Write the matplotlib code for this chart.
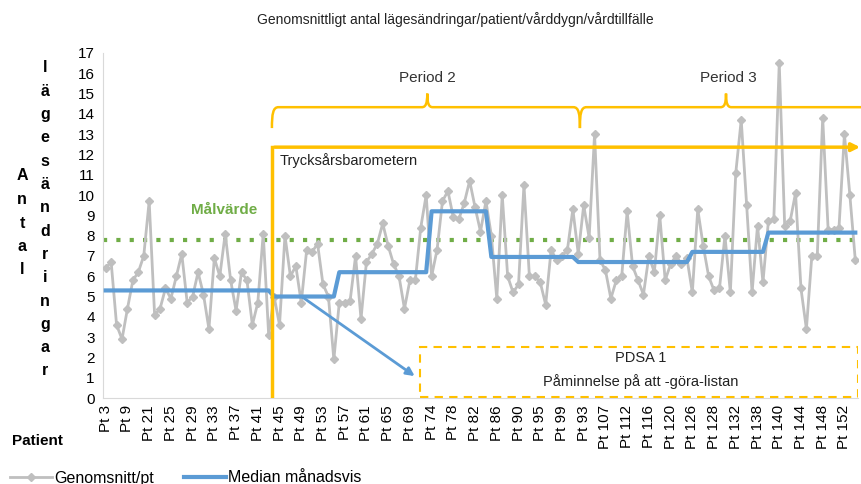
import matplotlib
matplotlib.use("Agg")
import matplotlib.pyplot as plt
from matplotlib.path import Path
from matplotlib.patches import PathPatch, Rectangle

plt.rcParams['font.family'] = ['Liberation Sans', 'DejaVu Sans']

# patient mean values
genomsnitt = [
    6.4, 6.7, 3.6, 2.9, 4.4, 5.8, 6.2, 7.0, 9.7, 4.1,
    4.4, 5.4, 4.9, 6.0, 7.1, 4.7, 5.0, 6.2, 5.1, 3.4,
    6.9, 6.0, 8.1, 5.8, 4.3, 6.2, 5.8, 3.6, 4.7, 8.1,
    3.1, 5.0, 3.6, 8.0, 6.0, 6.5, 4.7, 7.3, 7.2, 7.6,
    5.6, 5.0, 1.9, 4.7, 4.7, 4.8, 7.0, 3.9, 6.7, 7.1,
    7.6, 8.6, 7.5, 6.6, 6.0, 4.4, 5.8, 5.8, 8.4, 10.0,
    6.0, 7.3, 9.7, 10.2, 8.9, 8.8, 9.6, 10.7, 9.4, 8.2,
    9.7, 8.0, 4.9, 10.0, 6.0, 5.2, 5.6, 10.5, 6.0, 6.0,
    5.7, 4.6, 7.3, 6.8, 7.0, 7.3, 9.3, 7.1, 9.5, 7.9,
    13.0, 6.8, 6.3, 4.9, 5.8, 6.0, 9.2, 6.5, 5.8, 5.1,
    7.0, 6.2, 9.0, 5.8, 6.6, 7.0, 6.6, 6.9, 5.2, 9.3,
    7.5, 6.0, 5.3, 5.4, 8.0, 5.2, 11.1, 13.7, 9.5, 5.2,
    8.5, 5.7, 8.7, 8.8, 16.5, 8.5, 8.7, 10.1, 5.4, 3.4,
    7.0, 7.0, 13.8, 8.3, 8.3, 8.4, 13.0, 10.0, 6.8,
]

# monthly median: (level, number of patients)
median_levels = [5.3, 5.0, 6.2, 9.2, 6.95, 6.7, 7.2, 8.15]
median_counts = [31, 12, 17, 11, 16, 21, 14, 17]

tick_labels = ['Pt 3', 'Pt 9', 'Pt 21', 'Pt 25', 'Pt 29', 'Pt 33', 'Pt 37', 'Pt 41',
               'Pt 45', 'Pt 49', 'Pt 53', 'Pt 57', 'Pt 61', 'Pt 65', 'Pt 69', 'Pt 74',
               'Pt 78', 'Pt 82', 'Pt 86', 'Pt 90', 'Pt 95', 'Pt 99', 'Pt 93', 'Pt 107',
               'Pt 112', 'Pt 116', 'Pt 120', 'Pt 126', 'Pt 128', 'Pt 132', 'Pt 138',
               'Pt 140', 'Pt 144', 'Pt 148', 'Pt 152']

malvarde = 7.8

n = len(genomsnitt)
x = list(range(n))
median = []
for lvl, cnt in zip(median_levels, median_counts):
    median += [lvl] * cnt

GRAY = '#BFBFBF'
BLUE = '#5B9BD5'
GREEN = '#70AD47'
GOLD = '#FFC000'

fig = plt.figure(figsize=(8.62, 4.84), dpi=100)
ax = fig.add_axes([103 / 862, 86 / 484, 755 / 862, 345 / 484])

ax.plot(x, genomsnitt, color=GRAY, lw=2, marker='D', ms=4, label='Genomsnitt/pt', zorder=3)
ax.plot(x, median, color=BLUE, lw=3, label='Median månadsvis', zorder=4)
ax.axhline(malvarde, color=GREEN, lw=3, ls=(0, (1, 2.2)), zorder=2)

ax.set_xlim(-0.5, n - 0.5)
ax.set_ylim(0, 17)
ax.set_yticks(range(0, 18))
ax.tick_params(axis='y', length=0, labelsize=11, pad=6)
ax.set_xticks(range(0, n, 4))
ax.set_xticklabels(tick_labels, rotation=90, fontsize=11)
ax.tick_params(axis='x', length=0, pad=5)
for s in ['top', 'right']:
    ax.spines[s].set_visible(False)
for s in ['left', 'bottom']:
    ax.spines[s].set_color('#D9D9D9')

# intervention marker
xi = 30.6
ax.plot([xi, xi], [0, 12.36], color=GOLD, lw=2.5, zorder=5)
ax.annotate('', xy=(139.4, 12.36), xytext=(xi, 12.36),
            arrowprops=dict(arrowstyle='-|>', color=GOLD, lw=2.5, mutation_scale=12),
            annotation_clip=False, zorder=5)
ax.text(xi + 1.5, 11.7, 'Trycksårsbarometern', fontsize=10.5, color='#222222',
        va='center', ha='left')

# period braces
def brace(x0, xc, x1, right_open=False):
    yb, yl, yt = 13.3, 14.33, 15.0
    verts = [(x0, yb), (x0, 14.0), (x0 + 0.2, yl), (x0 + 1.2, yl),
             (xc - 1.0, yl),
             (xc - 0.3, yl), (xc, 14.5), (xc, yt),
             (xc, 14.5), (xc + 0.3, yl), (xc + 1.0, yl)]
    codes = [Path.MOVETO, Path.CURVE4, Path.CURVE4, Path.CURVE4,
             Path.LINETO,
             Path.CURVE4, Path.CURVE4, Path.CURVE4,
             Path.CURVE4, Path.CURVE4, Path.CURVE4]
    if right_open:
        verts += [(x1, yl)]
        codes += [Path.LINETO]
    else:
        verts += [(x1 - 1.2, yl), (x1 - 0.2, yl), (x1, 14.0), (x1, yb)]
        codes += [Path.LINETO, Path.CURVE4, Path.CURVE4, Path.CURVE4]
    ax.add_patch(PathPatch(Path(verts, codes), fill=False, edgecolor=GOLD,
                           lw=1.8, clip_on=False, zorder=5))

brace(xi, 59.2, 87.3)
brace(87.3, 114.2, 139.3, right_open=True)
ax.text(59.2, 15.75, 'Period 2', fontsize=11, ha='center', va='center', color='#333333')
ax.text(114.6, 15.75, 'Period 3', fontsize=11, ha='center', va='center', color='#333333')

ax.text(21.8, 9.26, 'Målvärde', fontsize=11, fontweight='bold', color=GREEN,
        ha='center', va='center')

# PDSA
ax.annotate('', xy=(57.3, 1.0), xytext=(35.8, 5.05),
            arrowprops=dict(arrowstyle='-|>', color=BLUE, lw=2, mutation_scale=12),
            zorder=6)
ax.add_patch(Rectangle((57.9, 0.05), 80.6, 2.45, fill=False, edgecolor=GOLD,
                       lw=1.5, ls=(0, (4, 3)), zorder=6))
ax.text(98.4, 1.97, 'PDSA 1', fontsize=10.5, ha='center', va='center', color='#222222')
ax.text(98.4, 0.79, 'Påminnelse på att -göra-listan', fontsize=10.5, ha='center',
        va='center', color='#222222')

# title and axis labels
fig.text(455 / 862, 1 - 20 / 484, 'Genomsnittligt antal lägesändringar/patient/vårddygn/vårdtillfälle',
         fontsize=10, ha='center', va='center', color='#222222')
for k, ch in enumerate('Antal'):
    fig.text(22 / 862, 1 - (176 + k * 23.5) / 484, ch, fontsize=11.5, fontweight='bold',
             ha='center', va='center')
for k, ch in enumerate('lägesändringar'):
    fig.text(45 / 862, 1 - (68 + k * 23.3) / 484, ch, fontsize=11.5, fontweight='bold',
             ha='center', va='center')
fig.text(12 / 862, 1 - 441 / 484, 'Patient', fontsize=11, fontweight='bold',
         ha='left', va='center')

fig.legend(loc='center left', bbox_to_anchor=(-0.005, 6 / 484), ncol=2, frameon=False,
           fontsize=11.5, handlelength=2.6, columnspacing=1.9, handletextpad=0.15)

fig.savefig('out.png', dpi=100)
